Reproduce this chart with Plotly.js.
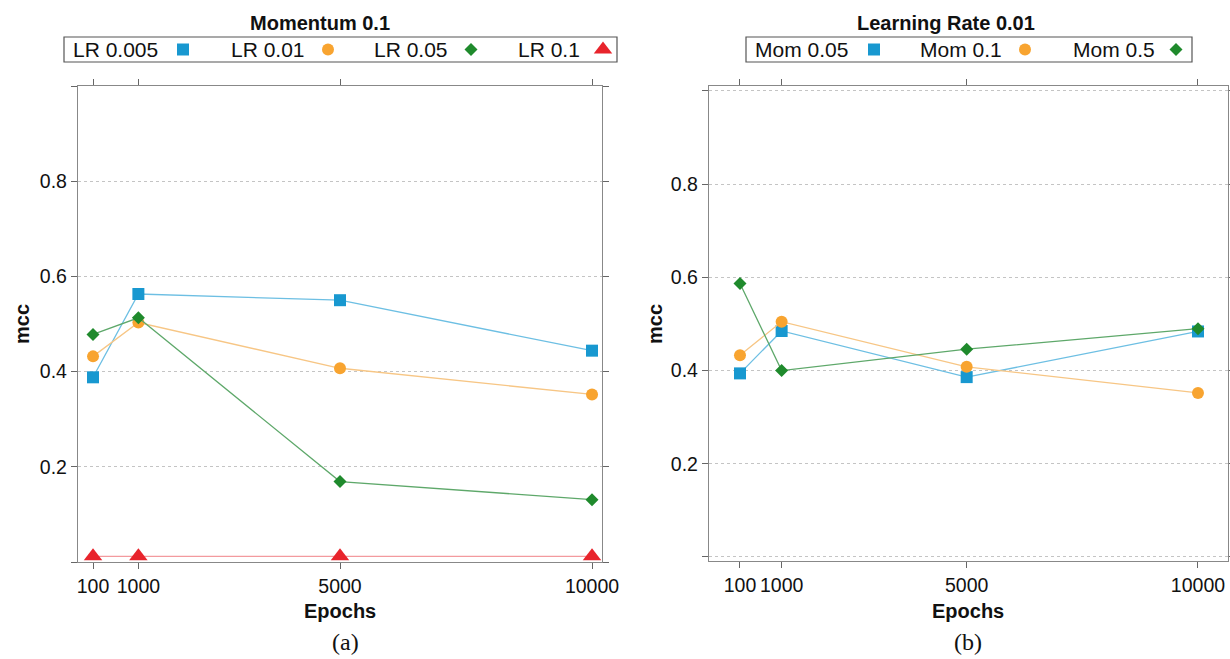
<!DOCTYPE html>
<html>
<head>
<meta charset="utf-8">
<script src="https://cdn.plot.ly/plotly-3.0.1.min.js"></script>
<style>html,body{margin:0;padding:0;background:#fff;}#chart{width:1230px;height:659px;}</style>
</head>
<body>
<div id="chart"></div>
<script>
// ---- data ----
const epochs = [100, 1000, 5000, 10000];
const epochTicks = ["100", "1000", "5000", "10000"];

// panel (a): Momentum 0.1
const lrNames = ["LR 0.005", "LR 0.01", "LR 0.05", "LR 0.1"];
const lr0005 = [0.388, 0.563, 0.550, 0.444];
const lr001  = [0.432, 0.503, 0.407, 0.352];
const lr005  = [0.478, 0.513, 0.169, 0.131];
const lr01   = [0.012, 0.012, 0.012, 0.012];

// panel (b): Learning Rate 0.01
const momNames = ["Mom 0.05", "Mom 0.1", "Mom 0.5"];
const mom005 = [0.394, 0.485, 0.386, 0.484];
const mom01  = [0.433, 0.505, 0.408, 0.352];
const mom05  = [0.587, 0.400, 0.446, 0.490];

const yTickVals = [0, 0.2, 0.4, 0.6, 0.8, 1.0];
const yTickText = ["", "0.2", "0.4", "0.6", "0.8", ""];

// ---- styles ----
const styles = [
  {symbol: "square",       color: "#1898D0", line: "#6DBFE3", size: 12},
  {symbol: "circle",       color: "#F8A430", line: "#F7C685", size: 12},
  {symbol: "diamond",      color: "#1F8A2C", line: "#5EA86A", size: 10},
  {symbol: "triangle-up",  color: "#E8242C", line: "#F39A9E", size: 16}
];

const W = 1230, H = 659;
const px = v => v / W;
const py = v => 1 - v / H;

const leftSeries = [lr0005, lr001, lr005, lr01];
const rightSeries = [mom005, mom01, mom05];

const traces = [];
leftSeries.forEach((ys, i) => {
  traces.push({
    x: epochs, y: ys, xaxis: "x", yaxis: "y", type: "scatter", mode: "lines+markers",
    name: lrNames[i], showlegend: false, cliponaxis: false,
    line: {color: styles[i].line, width: 1.3},
    marker: {symbol: styles[i].symbol, color: styles[i].color, size: styles[i].size}
  });
});
rightSeries.forEach((ys, i) => {
  traces.push({
    x: epochs, y: ys, xaxis: "x2", yaxis: "y2", type: "scatter", mode: "lines+markers",
    name: momNames[i], showlegend: false, cliponaxis: false,
    line: {color: styles[i].line, width: 1.3},
    marker: {symbol: styles[i].symbol, color: styles[i].color, size: styles[i].size}
  });
});

// ---- manual legends (text then symbol, as in the reference) ----
const legLeft  = {box: [64, 617], textX: [71, 229, 372, 516], symX: [183, 328, 471, 603]};
const legRight = {box: [746, 1192], textX: [753, 918, 1071], symX: [874, 1025, 1176]};
const legTop = 37, legBot = 62, legMid = 49.5;

function legendGlyphs(names, leg) {
  names.forEach((n, i) => {
    traces.push({
      x: [leg.symX[i]], y: [legMid], xaxis: "x3", yaxis: "y3", type: "scatter", mode: "markers",
      showlegend: false, hoverinfo: "skip", cliponaxis: false,
      marker: {symbol: styles[i].symbol, color: styles[i].color, size: styles[i].size}
    });
  });
}
legendGlyphs(lrNames, legLeft);
legendGlyphs(momNames, legRight);

const annotations = [];
const shapes = [];
function legendText(names, leg) {
  names.forEach((n, i) => {
    annotations.push({text: n, xref: "paper", yref: "paper", x: px(leg.textX[i]), y: py(legMid),
      xanchor: "left", yanchor: "middle", showarrow: false,
      font: {family: "Liberation Sans, Arial, sans-serif", size: 21, color: "#111"}});
  });
  shapes.push({type: "rect", xref: "paper", yref: "paper",
    x0: px(leg.box[0]), x1: px(leg.box[1]), y0: py(legBot), y1: py(legTop),
    line: {color: "#555", width: 1.2}, fillcolor: "rgba(0,0,0,0)"});
}
legendText(lrNames, legLeft);
legendText(momNames, legRight);

const boldFont = {family: "Liberation Sans, Arial, sans-serif", size: 20, color: "#111"};
function addText(t, x, y, extra) {
  annotations.push(Object.assign({text: t, xref: "paper", yref: "paper", x: px(x), y: py(y),
    xanchor: "center", yanchor: "middle", showarrow: false, font: boldFont}, extra || {}));
}
addText("<b>Momentum 0.1</b>", 320, 23);
addText("<b>Learning Rate 0.01</b>", 946, 23);
addText("<b>Epochs</b>", 340, 611);
addText("<b>Epochs</b>", 968, 611);
addText("<b>mcc</b>", 22, 324, {textangle: -90});
addText("<b>mcc</b>", 655, 324, {textangle: -90});
const serif = {family: "Liberation Serif, Times New Roman, serif", size: 24, color: "#111"};
addText("(a)", 345, 642, {font: serif});
addText("(b)", 968, 642, {font: serif});

const tickFont = {family: "Liberation Sans, Arial, sans-serif", size: 19.5, color: "#111"};
const axisCommon = {
  showline: true, linecolor: "#888", linewidth: 1.2, mirror: "ticks",
  ticks: "outside", ticklen: 6, tickcolor: "#666", tickwidth: 1,
  tickfont: tickFont, zeroline: false, fixedrange: true
};

const layout = {
  width: W, height: H, autosize: false,
  margin: {l: 0, r: 0, t: 0, b: 0},
  paper_bgcolor: "#fff", plot_bgcolor: "rgba(0,0,0,0)",
  showlegend: false,
  xaxis: Object.assign({}, axisCommon, {
    domain: [px(78), px(602)], range: [-198, 10198], anchor: "y",
    tickvals: epochs, ticktext: epochTicks, tickangle: 0, showgrid: false
  }),
  yaxis: Object.assign({}, axisCommon, {
    domain: [py(562), py(86)], range: [0, 1.0], anchor: "x",
    tickvals: yTickVals, ticktext: yTickText,
    showgrid: true, gridcolor: "#c4c4c4", griddash: "3px,3px", gridwidth: 1
  }),
  xaxis2: Object.assign({}, axisCommon, {
    domain: [px(709), px(1228)], range: [-570, 10649], anchor: "y2",
    tickvals: epochs, ticktext: epochTicks, tickangle: 0, showgrid: false
  }),
  yaxis2: Object.assign({}, axisCommon, {
    domain: [py(561), py(86)], range: [-0.0086, 1.0107], anchor: "x2",
    tickvals: yTickVals, ticktext: yTickText,
    showgrid: true, gridcolor: "#c4c4c4", griddash: "3px,3px", gridwidth: 1
  }),
  xaxis3: {domain: [0, 1], range: [0, W], anchor: "y3", visible: false, fixedrange: true},
  yaxis3: {domain: [0, 1], range: [H, 0], anchor: "x3", visible: false, fixedrange: true},
  annotations: annotations,
  shapes: shapes
};

Plotly.newPlot("chart", traces, layout, {staticPlot: true, displayModeBar: false});
</script>
</body>
</html>
